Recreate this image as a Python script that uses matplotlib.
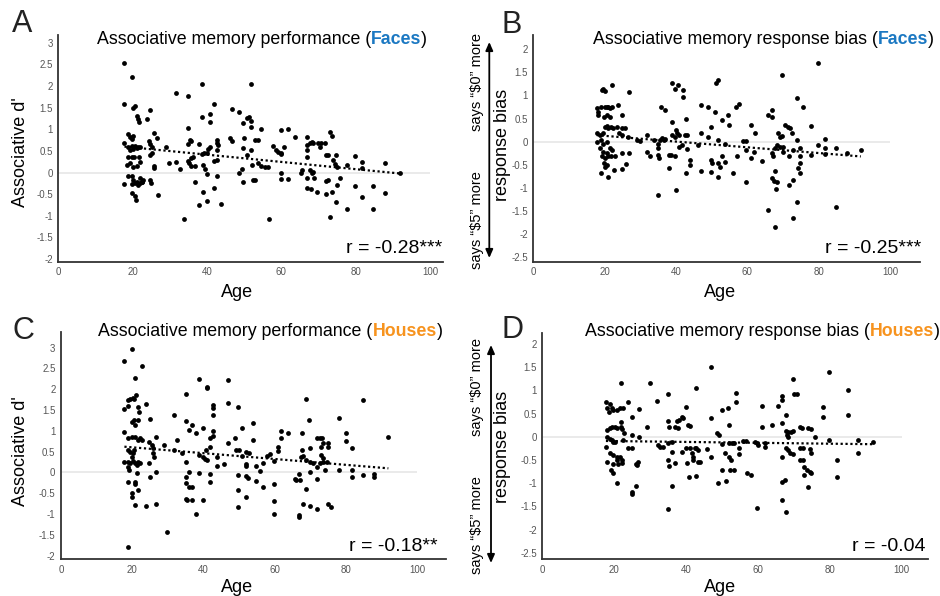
import matplotlib
matplotlib.use("Agg")
import matplotlib.pyplot as plt
import numpy as np

plt.rcParams['font.family'] = ['Liberation Sans', 'DejaVu Sans']

# ==============================
# Data (age, value)
# ==============================
faces_perf = [
    (17.8, 2.54), (19.8, 2.21), (17.8, 1.58), (20.6, 1.55), (20.2, 1.50), (21.2, 1.30), (21.5, 1.23),
    (21.8, 1.18), (23.9, 1.23), (24.8, 1.45), (25.8, 0.92), (26.6, 0.79), (18.8, 0.89), (19.3, 0.83),
    (19.7, 0.77), (20.0, 0.85), (17.8, 0.68), (18.8, 0.60), (19.3, 0.52), (19.7, 0.62), (20.2, 0.55),
    (20.6, 0.62), (21.1, 0.56), (21.5, 0.60), (22.0, 0.60), (18.8, 0.37), (19.7, 0.37), (20.5, 0.37),
    (21.8, 0.37), (18.5, 0.18), (19.4, 0.22), (20.2, 0.14), (21.1, 0.15), (22.0, 0.25), (18.8, -0.07),
    (19.7, -0.09), (20.2, -0.17), (21.1, -0.21), (22.0, -0.13), (22.4, -0.21), (22.9, -0.17),
    (17.8, -0.26), (19.9, -0.26), (20.6, -0.25), (21.5, -0.28), (22.0, -0.25), (22.6, -0.22),
    (19.9, -0.48), (20.6, -0.55), (20.8, -0.63), (24.5, 0.72), (24.8, 0.66), (25.1, 0.60), (24.6, 0.41),
    (25.1, 0.45), (25.8, 0.16), (25.7, 0.10), (24.8, -0.17), (25.0, -0.25), (26.7, -0.52), (28.9, 0.58),
    (29.8, 0.22), (31.7, 1.83), (31.7, 0.24), (32.8, 0.08), (33.7, -1.07), (34.8, 1.78), (34.8, 1.02),
    (35.0, 0.65), (35.3, 0.75), (35.8, 0.72), (34.8, 0.27), (35.1, 0.22), (35.8, 0.16), (36.8, 0.16),
    (35.6, 0.33), (36.3, 0.37), (36.8, -0.21), (37.8, 0.65), (37.8, -0.75), (38.7, 2.04), (38.7, 1.29),
    (38.7, 0.43), (39.2, 0.46), (39.9, 0.45), (40.3, 0.55), (38.8, 0.18), (39.6, 0.08), (39.9, -0.03),
    (38.8, -0.44), (39.9, -0.65), (40.8, 1.35), (40.8, 1.17), (40.8, 0.58), (41.8, 1.58), (41.8, 0.27),
    (42.6, 0.28), (41.8, -0.35), (42.8, 0.75), (42.8, 0.68), (43.1, 0.64), (42.8, -0.08), (42.6, 0.52),
    (43.7, -0.73), (46.8, 1.47), (46.2, 0.79), (46.7, 0.74), (48.7, 1.41), (48.7, 0.00), (49.3, 0.08),
    (49.7, -0.21), (49.9, 0.81), (49.8, 0.56), (50.7, 0.41), (49.8, 1.15), (50.7, 1.27), (51.4, 1.29),
    (51.8, 1.20), (51.8, 2.04), (51.8, 1.06), (51.8, 0.52), (52.0, 0.18), (52.4, -0.17), (52.9, -0.17),
    (52.9, 0.75), (53.8, 0.75), (53.6, 0.22), (54.6, 0.16), (55.6, 0.12), (56.5, 0.12), (54.6, 1.00),
    (56.8, -1.07), (57.8, 0.61), (58.7, 0.52), (59.2, 0.48), (60.0, 0.43), (60.7, 0.60), (59.9, 0.45),
    (59.8, 0.98), (61.7, 1.00), (59.9, 0.00), (59.9, -0.15), (61.9, -0.15), (63.7, 0.83), (65.6, 0.06),
    (65.4, 0.00), (66.8, 0.83), (67.0, 0.64), (66.8, 0.52), (66.8, 0.37), (66.8, -0.13), (66.8, -0.36),
    (67.7, 0.68), (68.2, 0.71), (68.6, 0.68), (67.7, 0.06), (68.2, 0.00), (68.6, 0.02), (67.9, -0.38),
    (68.8, -0.13), (69.5, -0.44), (69.8, 0.68), (70.4, 0.60), (70.8, 0.68), (71.7, 0.68), (71.9, 0.40),
    (72.6, 0.40), (71.9, -0.49), (71.9, -0.20), (72.6, -0.17), (73.0, 0.93), (73.6, 0.85), (73.0, -1.02),
    (73.6, -0.44), (74.0, 0.29), (74.4, 0.20), (74.9, 0.14), (74.7, 0.41), (74.7, -0.67), (75.1, -0.28),
    (75.8, -0.13), (77.8, -0.84), (77.8, 0.18), (79.8, 0.38), (79.8, -0.32), (81.6, 0.25), (81.6, 0.10),
    (81.6, -0.57), (84.8, -0.32), (84.8, -0.85), (87.9, 0.22), (87.9, -0.48), (91.8, -0.02),
]

faces_bias = [
    (17.8, 0.72), (18.2, 0.65), (18.0, 0.58), (18.9, 0.76), (19.2, 1.12), (19.6, 1.13), (20.1, 1.10),
    (22.0, 1.22), (20.1, 0.75), (20.6, 0.76), (21.0, 0.74), (21.5, 0.72), (22.0, 0.74), (19.9, 0.54),
    (20.6, 0.58), (21.5, 0.54), (20.1, 0.32), (20.6, 0.33), (21.0, 0.29), (21.7, 0.32), (22.4, 0.30),
    (23.4, 0.32), (17.8, 0.18), (18.7, 0.14), (19.6, 0.18), (17.8, 0.00), (18.9, 0.04), (19.6, -0.04),
    (20.6, 0.00), (18.7, -0.14), (19.6, -0.22), (20.6, -0.25), (21.5, -0.14), (22.0, -0.18),
    (19.2, -0.32), (20.1, -0.36), (21.0, -0.30), (21.9, -0.32), (19.8, -0.47), (20.6, -0.50),
    (20.1, -0.54), (18.9, -0.68), (20.8, -0.76), (22.7, -0.61), (23.8, 0.79), (24.8, 0.58), (24.8, 0.29),
    (25.7, 0.29), (24.0, 0.18), (24.8, 0.14), (24.8, -0.25), (22.9, -0.31), (25.9, -0.48), (24.8, -0.60),
    (26.9, 1.08), (26.6, 0.11), (26.9, -0.25), (29.0, 0.04), (29.9, 0.02), (31.9, 0.14), (31.9, -0.22),
    (32.8, -0.31), (33.8, 0.04), (34.9, -0.04), (35.0, -0.14), (35.5, 0.04), (36.0, 0.07), (36.5, 0.04),
    (36.9, 0.05), (34.9, -0.29), (35.1, -0.36), (35.0, -1.16), (35.9, 0.76), (36.8, 0.68), (38.0, -0.29),
    (38.6, -0.29), (39.7, -0.32), (38.0, -0.58), (38.8, 1.26), (39.7, 1.15), (40.7, 1.22), (38.9, 0.43),
    (39.9, 0.25), (40.2, 0.18), (38.9, 0.14), (39.7, 0.11), (40.9, 0.14), (40.9, -0.11), (41.6, -0.07),
    (41.9, 1.11), (41.9, 0.96), (42.8, 0.50), (42.5, 0.14), (43.2, 0.14), (43.0, -0.16), (39.9, -1.04),
    (43.9, -0.40), (43.9, -0.50), (42.8, -0.68), (46.1, -0.07), (46.9, 0.79), (46.9, 0.18), (46.9, -0.63),
    (48.9, 0.76), (48.9, 0.11), (49.8, 0.32), (49.8, -0.40), (50.0, -0.47), (49.8, -0.65), (50.9, 0.65),
    (51.2, 1.26), (51.9, 1.33), (51.9, 0.04), (51.9, -0.47), (52.2, -0.54), (51.9, -0.76), (52.8, 0.47),
    (53.0, -0.32), (53.8, -0.04), (53.8, -0.45), (54.7, 0.58), (54.9, 0.36), (55.9, -0.67), (56.8, 0.76),
    (57.8, 0.81), (57.0, -0.32), (58.9, 0.02), (59.6, 0.02), (59.6, -0.18), (59.6, -0.88), (61.0, 0.36),
    (61.0, -0.36), (62.1, 0.18), (61.9, -0.23), (64.0, -0.41), (65.7, 0.58), (66.8, 0.53), (66.8, 0.68),
    (66.8, -0.25), (67.3, -0.32), (67.8, -0.14), (65.7, -1.49), (67.8, -1.85), (66.9, -0.79),
    (67.5, -0.86), (68.2, -0.88), (67.8, -0.63), (68.0, -1.03), (68.7, 0.18), (69.2, 0.11), (69.6, 0.12),
    (68.4, -0.07), (69.2, -0.11), (70.1, -0.11), (69.8, 1.44), (70.1, -0.22), (70.6, 0.36), (71.3, 0.32),
    (71.9, 0.29), (72.4, 0.18), (71.8, -0.32), (71.8, -0.94), (72.9, -0.18), (72.7, -0.83), (72.9, -1.65),
    (73.8, 0.94), (73.8, 0.04), (73.8, -1.31), (74.8, -0.14), (74.8, -0.32), (74.8, -0.47), (74.3, -0.58),
    (74.8, -0.68), (75.7, 0.74), (77.8, 0.34), (77.8, -0.29), (79.9, 1.71), (79.9, -0.07), (81.8, 0.05),
    (81.8, -0.14), (81.8, -0.27), (84.9, -0.14), (84.9, -1.42), (87.9, -0.24), (91.8, -0.18),
]

houses_perf = [
    (17.8, 2.68), (19.8, 2.96), (22.8, 2.56), (20.9, 2.28), (17.8, 1.52), (18.9, 1.75), (19.4, 1.77),
    (20.1, 1.78), (20.6, 1.76), (21.0, 1.86), (18.9, 1.60), (21.7, 1.58), (22.0, 1.46), (23.9, 1.64),
    (19.8, 1.22), (20.5, 1.26), (20.8, 1.14), (21.7, 1.26), (17.8, 0.98), (25.0, 1.28), (18.9, 0.82),
    (19.8, 0.86), (20.8, 0.86), (21.7, 0.78), (22.2, 0.82), (22.6, 0.78), (18.9, 0.54), (19.5, 0.50),
    (20.1, 0.46), (20.5, 0.55), (19.8, 0.38), (17.7, 0.24), (18.9, 0.26), (19.5, 0.23), (20.3, 0.28),
    (20.8, 0.22), (21.7, 0.26), (22.2, 0.22), (21.2, 0.18), (18.9, 0.14), (19.2, 0.07), (21.2, -0.02),
    (18.9, -0.24), (20.8, -0.23), (20.9, -0.28), (19.8, -0.50), (20.0, -0.58), (20.8, -0.77),
    (21.7, -0.43), (18.9, -1.80), (23.8, -0.81), (24.8, 0.74), (25.6, 0.67), (25.7, 0.60), (25.9, 0.46),
    (26.1, 0.38), (24.8, 0.22), (25.0, -0.10), (26.8, 0.86), (26.8, 0.00), (26.8, -0.76), (28.9, 0.67),
    (29.8, -1.43), (31.7, 1.38), (31.7, 0.54), (32.7, 0.78), (33.9, 0.46), (35.0, 1.88), (35.0, 1.23),
    (35.0, 0.24), (35.0, -0.10), (35.0, -0.25), (35.0, -0.63), (35.3, -0.65), (35.8, 1.02), (35.8, 0.02),
    (36.0, -0.36), (36.7, 1.15), (36.7, -0.34), (36.9, -0.67), (37.8, 0.95), (37.8, -1.00), (38.7, 2.24),
    (38.7, 0.42), (38.7, -0.02), (39.8, 0.38), (40.4, 0.32), (39.8, 1.07), (39.8, -0.67), (40.9, 2.06),
    (40.9, 2.02), (40.7, 0.55), (40.9, 0.30), (41.8, 0.62), (41.8, -0.04), (41.8, -0.22), (42.8, 1.62),
    (42.8, 1.54), (42.8, 1.38), (42.8, 1.00), (42.8, 0.87), (41.8, 0.82), (43.9, 0.38), (43.9, 0.16),
    (45.8, 0.20), (46.9, 2.22), (46.9, 1.66), (46.9, 0.72), (48.8, 0.84), (49.7, 1.58), (49.1, 0.55),
    (49.9, 0.55), (49.7, -0.06), (49.7, -0.41), (49.7, -0.84), (50.9, 1.06), (50.9, 0.40), (51.8, 0.50),
    (51.8, 0.20), (51.8, 0.16), (51.8, -0.08), (52.6, -0.13), (51.8, -0.59), (52.8, 0.46), (53.8, 1.18),
    (53.8, 0.78), (54.7, 0.16), (54.7, -0.20), (55.8, 0.04), (56.8, 0.23), (56.8, -0.36), (57.7, 0.40),
    (58.6, 0.44), (59.8, -0.28), (59.8, -0.68), (59.8, -1.00), (59.8, 0.27), (60.8, 0.52), (60.8, 0.62),
    (61.9, 1.00), (61.9, 0.82), (63.8, 0.95), (65.7, -0.16), (66.1, -0.18), (66.9, -0.04), (67.1, -0.18),
    (66.9, -1.02), (66.9, -1.07), (67.7, 0.95), (67.5, 0.38), (68.0, 0.40), (67.7, 0.55), (67.8, -0.76),
    (68.7, 1.76), (68.7, -0.40), (68.9, 0.30), (69.7, 1.26), (69.9, 0.58), (69.9, 0.24), (69.9, 0.02),
    (69.9, -0.80), (70.8, 0.22), (71.9, -0.88), (71.9, 0.82), (72.7, 0.82), (73.4, 0.82), (71.9, 0.14),
    (72.7, 0.22), (73.6, 0.26), (71.9, -0.16), (72.9, 0.62), (73.6, 0.70), (72.9, 0.42), (73.6, 0.34),
    (74.1, 0.06), (74.6, 0.26), (75.0, 0.62), (75.0, 0.70), (75.0, -0.76), (75.8, -0.84), (78.0, 0.07),
    (78.0, 1.30), (79.9, 0.95), (79.9, 0.76), (81.8, 0.59), (81.8, 0.07), (81.8, -0.12), (84.8, 1.74),
    (84.8, -0.05), (87.8, -0.04), (87.8, -0.12), (91.7, 0.86),
]

houses_bias = [
    (17.7, 0.76), (18.8, 0.71), (17.9, 0.61), (18.6, 0.54), (19.3, 0.61), (19.8, 0.58), (20.7, 0.58),
    (21.6, 0.61), (22.5, 0.61), (21.9, 1.16), (23.9, 0.74), (17.9, 0.15), (18.8, 0.18), (19.3, 0.22),
    (20.2, 0.22), (20.7, 0.18), (21.8, 0.22), (22.1, 0.16), (17.9, 0.00), (18.8, -0.04), (19.3, -0.07),
    (19.6, -0.11), (20.2, -0.11), (17.7, -0.22), (17.9, -0.54), (18.8, -0.36), (19.8, -0.40),
    (20.7, -0.43), (21.6, -0.43), (22.1, -0.51), (19.8, -0.58), (20.7, -0.51), (21.2, -0.58),
    (22.1, -0.56), (19.0, -0.72), (19.8, -0.79), (20.9, -1.00), (21.8, 0.32), (22.5, -0.07), (22.8, 0.09),
    (23.9, -0.25), (24.9, -0.25), (24.9, 0.43), (25.0, 0.04), (24.9, -1.19), (25.0, -1.24), (26.0, -0.58),
    (26.3, -0.61), (26.0, -1.06), (26.7, -0.54), (27.0, 0.60), (27.0, 0.00), (29.0, 0.22), (30.0, 1.16),
    (31.8, 0.78), (32.1, -0.18), (32.8, -0.22), (33.7, -0.22), (34.9, 0.92), (34.9, 0.33), (35.2, 0.22),
    (34.9, -0.14), (34.9, -0.50), (35.2, -0.64), (34.9, -1.55), (36.0, -0.32), (36.0, -1.06),
    (36.0, -0.11), (36.9, -0.56), (36.9, 0.22), (37.8, 0.18), (37.4, 0.33), (38.0, 0.36), (38.8, 0.43),
    (39.2, 0.40), (38.8, -0.32), (40.0, 0.65), (40.0, -0.25), (40.2, -0.56), (40.6, 0.25), (41.1, 0.23),
    (41.1, -0.25), (41.6, -0.36), (40.9, -0.87), (41.8, -0.43), (42.0, -0.50), (42.5, -0.25),
    (42.9, -0.25), (43.4, -0.29), (42.8, 1.05), (42.8, -0.85), (43.4, -0.54), (43.9, -0.54),
    (45.9, -0.27), (46.8, 0.40), (46.8, 1.50), (46.8, -0.43), (48.7, 0.09), (49.3, 0.04), (48.8, -0.99),
    (49.9, 0.58), (49.9, -0.71), (49.9, -0.16), (50.8, -0.36), (51.1, -0.95), (51.8, 0.61), (52.0, 0.25),
    (52.0, -0.14), (52.7, -0.14), (53.2, -0.14), (52.0, -0.43), (52.4, -0.49), (52.2, -0.72),
    (53.2, -0.72), (53.8, 0.94), (53.9, 0.74), (54.8, -0.25), (54.8, -0.38), (55.9, -0.09), (56.7, -0.09),
    (56.9, -0.79), (58.0, -0.83), (59.2, -0.11), (59.8, -1.53), (59.8, -0.14), (60.1, -0.18), (61.0, 0.66),
    (61.0, 0.22), (62.0, -0.14), (62.0, -0.22), (63.8, 0.25), (65.7, 0.66), (66.8, 0.87), (66.8, 0.80),
    (66.8, 0.30), (66.8, -0.43), (66.8, -0.97), (67.5, -0.94), (66.8, -1.37), (67.8, -1.62), (67.8, 0.47),
    (67.8, 0.13), (68.4, 0.11), (69.1, 0.11), (69.7, 0.13), (68.0, 0.04), (68.3, 0.00), (67.8, -0.25),
    (68.5, -0.29), (69.0, -0.36), (69.7, -0.38), (69.7, 1.24), (69.9, 0.92), (70.8, 0.92), (71.7, 0.22),
    (72.2, 0.18), (71.7, -0.25), (72.4, -0.25), (71.7, -0.50), (72.4, -0.50), (72.9, -0.65), (73.6, -0.72),
    (74.5, -0.76), (74.9, -0.79), (72.9, -0.83), (73.8, -1.08), (74.0, 0.18), (74.7, 0.16), (74.5, -0.27),
    (74.8, -0.35), (75.9, 0.00), (78.0, 0.65), (78.0, 0.42), (79.9, 1.39), (79.9, -0.06), (81.9, -0.50),
    (81.9, -0.87), (85.0, 1.01), (85.0, 0.47), (87.9, -0.07), (87.9, -0.35), (91.9, -0.11),
]

# trend line end points (age, value)
trend_faces_perf = [(17.8, 0.60), (91.8, -0.02)]
trend_faces_bias = [(17.8, 0.14), (91.8, -0.32)]
trend_houses_perf = [(17.8, 0.62), (91.9, 0.10)]
trend_houses_bias = [(17.7, -0.09), (92.1, -0.16)]

r_labels = ["r = -0.28***", "r = -0.25***", "r = -0.18**", "r = -0.04"]
panel_letters = ["A", "B", "C", "D"]
stimuli = ["Faces", "Faces", "Houses", "Houses"]
stim_colors = {"Faces": "#1b78c2", "Houses": "#f7931e"}

perf_ticks = [3, 2.5, 2, 1.5, 1, 0.5, 0, -0.5, -1, -1.5, -2]
bias_ticks = [2, 1.5, 1, 0.5, 0, -0.5, -1, -1.5, -2, -2.5]
age_ticks = [0, 20, 40, 60, 80, 100]

W, H = 940, 596
fig = plt.figure(figsize=(W / 100, H / 100), dpi=100)


def fx(x):
    return x / W


def fy(y):
    return 1 - y / H


def make_axes(left, top, right, bottom):
    return fig.add_axes([fx(left), fy(bottom), (right - left) / W, (bottom - top) / H])


def draw_panel(ax, pts, trend, yticks, xlim, ylim):
    pts = np.array(pts)
    trend = np.array(trend)
    ax.hlines(0, 0, 100, color="#e6e6e6", lw=1.2, zorder=1)
    ax.scatter(pts[:, 0], pts[:, 1], s=12, color="black", linewidths=0, zorder=3)
    ax.plot(trend[:, 0], trend[:, 1], color="black", lw=1.6, ls=(0, (1, 1.2)), zorder=2)
    ax.set_xlim(*xlim)
    ax.set_ylim(*ylim)
    ax.set_xticks(age_ticks)
    ax.set_xticklabels([str(t) for t in age_ticks])
    ax.set_yticks(yticks)
    ax.set_yticklabels(["%g" % t for t in yticks])
    ax.tick_params(length=0, labelsize=7, colors="#555555", pad=4)
    for side in ["top", "right"]:
        ax.spines[side].set_visible(False)
    for side in ["left", "bottom"]:
        ax.spines[side].set_color("#333333")
        ax.spines[side].set_linewidth(1.3)
    ax.patch.set_alpha(0)


def mixed_title(x, y, prefix, word):
    t1 = fig.text(fx(x), fy(y), prefix + " (", ha="left", va="center", fontsize=12.8)
    t2 = fig.axes[0].annotate(word, xy=(1, 0.5), xycoords=t1, ha="left", va="center",
                              fontsize=12.8, fontweight="bold", color=stim_colors[word],
                              annotation_clip=False)
    fig.axes[0].annotate(")", xy=(1, 0.5), xycoords=t2, ha="left", va="center",
                         fontsize=12.8, annotation_clip=False)


ax_a = make_axes(58.3, 35, 443, 261.7)
ax_b = make_axes(533.3, 35, 920, 261.7)
ax_c = make_axes(61, 332.3, 445.7, 559)
ax_d = make_axes(542.3, 333.3, 928.3, 559.3)

draw_panel(ax_a, faces_perf, trend_faces_perf, perf_ticks, (0, 103.5), (-2.06, 3.18))
draw_panel(ax_b, faces_bias, trend_faces_bias, bias_ticks, (0, 108.4), (-2.6, 2.31))
draw_panel(ax_c, houses_perf, trend_houses_perf, perf_ticks, (0, 108), (-2.08, 3.37))
draw_panel(ax_d, houses_bias, trend_houses_bias, bias_ticks, (0, 107.4), (-2.64, 2.23))

# titles
mixed_title(96.7, 39, "Associative memory performance", stimuli[0])
mixed_title(593, 39, "Associative memory response bias", stimuli[1])
mixed_title(98.3, 332, "Associative memory performance", stimuli[2])
mixed_title(585, 332, "Associative memory response bias", stimuli[3])

# panel letters
for letter, (x, y) in zip(panel_letters, [(22, 24), (512, 25), (23, 331), (512, 330)]):
    fig.text(fx(x), fy(y), letter, ha="center", va="center", fontsize=22, color="#222222")

# axis labels
for x, y in [(237, 292), (720, 292), (237, 587), (720, 587)]:
    fig.text(fx(x), fy(y), "Age", ha="center", va="center", fontsize=13)
fig.text(fx(21), fy(152), "Associative d'", ha="center", va="center", rotation=90, fontsize=13)
fig.text(fx(21), fy(451), "Associative d'", ha="center", va="center", rotation=90, fontsize=13)
fig.text(fx(503), fy(145), "response bias", ha="center", va="center", rotation=90, fontsize=13)
fig.text(fx(503), fy(447), "response bias", ha="center", va="center", rotation=90, fontsize=13)

# "says ... more" with double arrow
for x_txt, y0, y1, x_arr, a_top, a_bot in [(477, 82, 220, 489.3, 42, 258),
                                           (477, 387, 525, 491, 345, 563)]:
    fig.text(fx(x_txt), fy(y0), "says \u201c$0\u201d more", ha="center", va="center",
             rotation=90, fontsize=10.5, parse_math=False)
    fig.text(fx(x_txt), fy(y1), "says \u201c$5\u201d more", ha="center", va="center",
             rotation=90, fontsize=10.5, parse_math=False)
    ax_a.annotate("", xy=(fx(x_arr), fy(a_top)), xytext=(fx(x_arr), fy(a_bot)),
                  xycoords="figure fraction", textcoords="figure fraction",
                  arrowprops=dict(arrowstyle="<|-|>,head_length=0.5,head_width=0.22",
                                  color="black", lw=1.3, shrinkA=0, shrinkB=0),
                  annotation_clip=False)

# correlation labels
for label, (x, y) in zip(r_labels, [(442, 248), (921.7, 248), (438, 546.7), (925, 546.7)]):
    fig.text(fx(x), fy(y), label, ha="right", va="center", fontsize=14)

fig.savefig("out.png", dpi=100)
